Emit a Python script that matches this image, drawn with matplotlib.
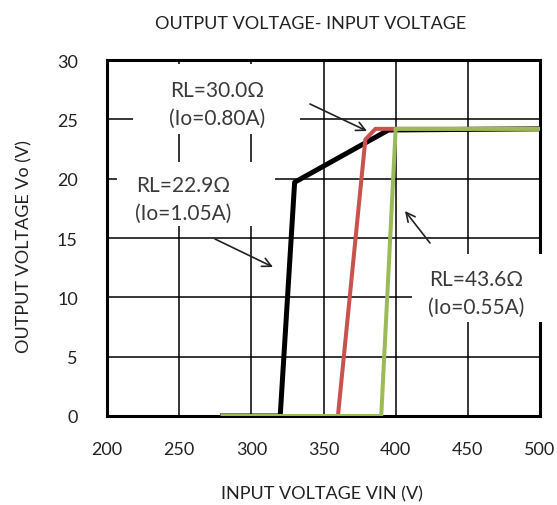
import matplotlib.pyplot as plt
from matplotlib.patches import Rectangle

plt.rcParams['font.family'] = ['Lato', 'DejaVu Sans']

# data
vin_22 = [280, 320, 330, 395, 500]
vo_22 = [0, 0, 19.7, 24.1, 24.2]
vin_30 = [360, 379, 386, 500]
vo_30 = [0, 23.3, 24.2, 24.2]
vin_43 = [280, 390, 400, 500]
vo_43 = [0, 0, 24.2, 24.2]

x_ticks = [200, 250, 300, 350, 400, 450, 500]
y_ticks = [0, 5, 10, 15, 20, 25, 30]

labels = ["RL=30.0Ω\n(Io=0.80A)", "RL=22.9Ω\n(Io=1.05A)", "RL=43.6Ω\n(Io=0.55A)"]

W, H = 557, 506
L, R, T, B = 107, 540, 61, 417


def fx(px):
    return (px - L) / (R - L)


def fy(py):
    return (B - py) / (B - T)


fig = plt.figure(figsize=(W / 100, H / 100), dpi=100)
ax = fig.add_axes([L / W, 1 - B / H, (R - L) / W, (B - T) / H])

ax.set_xlim(200, 500)
ax.set_ylim(0, 30)
ax.set_xticks(x_ticks)
ax.set_yticks(y_ticks)
ax.tick_params(length=0, labelsize=13, labelcolor='#222222')
ax.tick_params(axis='y', pad=21)
ax.tick_params(axis='x', pad=18)
ax.grid(True, color='black', linewidth=1.1)
ax.set_axisbelow(True)
for s in ax.spines.values():
    s.set_linewidth(2.2)
    s.set_zorder(2.4)

ax.plot(vin_22, vo_22, color='black', linewidth=3.6, zorder=4)
ax.plot(vin_30, vo_30, color='#C9524E', linewidth=2.9, zorder=5)
ax.plot(vin_43, vo_43, color='#9BBB59', linewidth=2.9, zorder=6)

# white text boxes that cut the grid
boxes = [(133, 65, 300, 135), (117, 163, 275, 227), (412, 255, 546, 323)]
for x0, y0, x1, y1 in boxes:
    ax.add_patch(Rectangle((fx(x0), fy(y1)), fx(x1) - fx(x0), fy(y0) - fy(y1),
                           transform=ax.transAxes, facecolor='white',
                           edgecolor='none', zorder=2.6, clip_on=False))

text_pos = [(217, 105), (183, 200), (476, 294)]
for lab, (tx, ty) in zip(labels, text_pos):
    ax.text(fx(tx), fy(ty), lab, transform=ax.transAxes, ha='center', va='center',
            fontsize=15, color='#3a3a3a', linespacing=1.45, zorder=7)

arrows = [((310, 105), (367, 132)), ((215, 240), (273, 268)), ((430, 244), (405, 212))]
for (sx, sy), (ex, ey) in arrows:
    ax.annotate('', xy=(fx(ex), fy(ey)), xytext=(fx(sx), fy(sy)),
                xycoords='axes fraction', textcoords='axes fraction',
                arrowprops=dict(arrowstyle='->', color='#222222', lw=1.2,
                                mutation_scale=16, shrinkA=0, shrinkB=0),
                zorder=8)

fig.text(311 / W, 1 - 24 / H, "OUTPUT VOLTAGE- INPUT VOLTAGE", ha='center', va='center',
         fontsize=13, color='#222222')
fig.text(322 / W, 1 - 494 / H, "INPUT VOLTAGE VIN (V)", ha='center', va='center',
         fontsize=13, color='#222222')
fig.text(24 / W, 1 - 247 / H, "OUTPUT VOLTAGE Vo (V)", ha='center', va='center',
         rotation=90, fontsize=13, color='#222222')

fig.savefig('out.png', dpi=100)
